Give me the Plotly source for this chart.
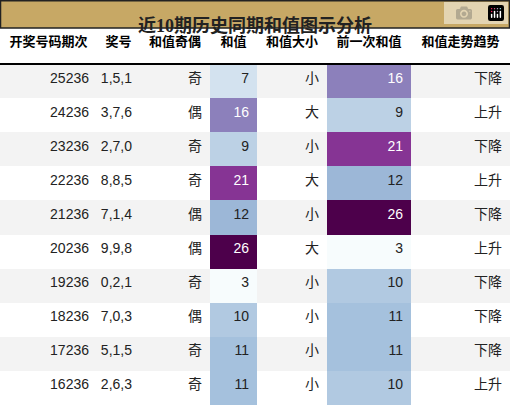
import plotly.graph_objects as go
from plotly.colors import sample_colorscale

periods = ["25236", "24236", "23236", "22236", "21236", "20236", "19236", "18236", "17236", "16236"]
numbers = ["1,5,1", "3,7,6", "2,7,0", "8,8,5", "7,1,4", "9,9,8", "0,2,1", "7,0,3", "5,1,5", "2,6,3"]
parity = ["奇", "偶", "奇", "奇", "偶", "偶", "奇", "偶", "奇", "奇"]
sums = [7, 16, 9, 21, 12, 26, 3, 10, 11, 11]
size = ["小", "大", "小", "大", "小", "大", "小", "小", "小", "小"]
prev_sums = [16, 9, 21, 12, 26, 3, 10, 11, 11, 10]
trend = ["下降", "上升", "下降", "上升", "下降", "上升", "下降", "下降", "下降", "上升"]
headers = ["开奖号码期次", "奖号", "和值奇偶", "和值", "和值大小", "前一次和值", "和值走势趋势"]

lo, hi = min(sums + prev_sums), max(sums + prev_sums)

def cmap(v):
    return sample_colorscale("BuPu", [(v - lo) / (hi - lo)])[0]

def fc(v):
    return "white" if (v - lo) / (hi - lo) > 0.5 else "#222"

row_bg = ["#f3f3f3" if i % 2 == 0 else "white" for i in range(len(periods))]
fills = [row_bg, row_bg, row_bg, [cmap(v) for v in sums], row_bg,
         [cmap(v) for v in prev_sums], row_bg]
fcolors = ["#222", "#222", "#222", [fc(v) for v in sums], "#222",
           [fc(v) for v in prev_sums], "#222"]

W, H = 510, 405
top = 28
fig = go.Figure(go.Table(
    columnwidth=[97, 43, 70, 47, 70, 84, 99],
    header=dict(values=headers, height=36, align="center", fill_color="white",
                line_color="white", font=dict(family="Noto Sans CJK SC", size=13, color="black", weight="bold")),
    cells=dict(values=[periods, numbers, parity, sums, size, prev_sums, trend],
               height=34.1, align="right", fill_color=fills, line_color="rgba(0,0,0,0)",
               font=dict(family="Liberation Sans, Noto Sans CJK SC", size=14, color=fcolors)),
    domain=dict(x=[0, 1], y=[0, 1 - top / H]),
))
fig.add_shape(type="rect", xref="paper", yref="paper", x0=0.001, x1=0.999,
              y0=1 - top / H, y1=0.998, fillcolor="#c7a865", line=dict(color="#222", width=1.5))
fig.add_shape(type="line", xref="paper", yref="paper", x0=0, x1=1,
              y0=1 - 64 / H, y1=1 - 64 / H, line=dict(color="black", width=2), layer="above")
fig.add_annotation(text="<b>近10期历史同期和值图示分析</b>", xref="paper", yref="paper",
                   x=0.5, y=1 - top / 2 / H, showarrow=False,
                   font=dict(family="Liberation Serif, Noto Sans CJK SC", size=18, color="#222"))
fig.update_layout(width=W, height=H, margin=dict(l=0, r=0, t=0, b=0),
                  paper_bgcolor="white")
fig.write_html("out.html", post_script="document.body.style.margin='0';document.documentElement.style.overflow='hidden';")
